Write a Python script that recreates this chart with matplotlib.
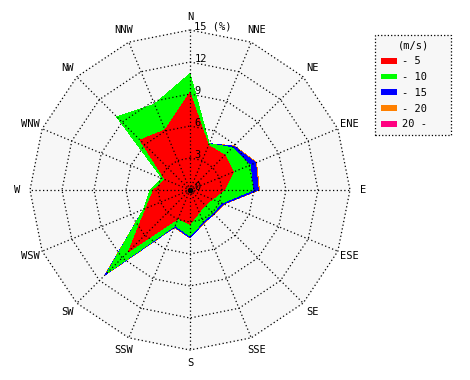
import matplotlib
matplotlib.use("Agg")
import matplotlib.pyplot as plt
from matplotlib.patches import Patch
import numpy as np

# 16 wind directions, clockwise from north
directions = ["N", "NNE", "NE", "ENE", "E", "ESE", "SE", "SSE",
              "S", "SSW", "SW", "WSW", "W", "WNW", "NW", "NNW"]

# frequency (%) per speed class and direction
freq_0_5 = [9.1, 4.5, 4.6, 4.4, 3.2, 2.25, 2.0, 2.25,
            3.2, 2.9, 8.1, 4.45, 3.4, 2.5, 6.6, 6.1]
freq_5_10 = [1.8, 0.2, 1.0, 1.7, 2.7, 0.95, 1.0, 0.95,
             1.1, 0.7, 2.9, 0.25, 0.35, 0.3, 3.1, 2.6]
freq_10_15 = [0.0, 0.0, 0.2, 0.55, 0.5, 0.2, 0.15, 0.15,
              0.15, 0.15, 0.15, 0.0, 0.0, 0.0, 0.0, 0.0]
freq_15_20 = [0.0, 0.0, 0.05, 0.1, 0.1, 0.05, 0.05, 0.05,
              0.05, 0.05, 0.1, 0.0, 0.0, 0.0, 0.0, 0.0]
freq_20_up = [0.0] * 16

speed_labels = ["- 5", "- 10", "- 15", "- 20", "20 -"]
speed_colors = ["#FF0000", "#00FF00", "#0000FF", "#FF8000", "#FF0080"]
ring_ticks = [0, 3, 6, 9, 12, 15]

plt.rcParams["font.family"] = ["DejaVu Sans Mono"]

theta = np.arange(len(directions)) * 2 * np.pi / len(directions)


def polygon(r):
    r = np.asarray(r, dtype=float)
    if r.ndim == 0:
        r = np.full(len(theta), float(r))
    x = r * np.sin(theta)
    y = r * np.cos(theta)
    return np.append(x, x[0]), np.append(y, y[0])


fig = plt.figure(figsize=(4.7, 3.8), dpi=100)
ax = fig.add_axes([0, 0, 1, 1])
scale = 160 / 15.0  # pixels per percent
ax.set_xlim(-190 / scale, 280 / scale)
ax.set_ylim(-190 / scale, 190 / scale)
ax.set_aspect("equal")
ax.axis("off")

rmax = ring_ticks[-1]
bx, by = polygon(rmax)
ax.fill(bx, by, color="#F7F7F7", zorder=0)

# stacked (cumulative) polygons, outermost first
classes = [freq_0_5, freq_5_10, freq_10_15, freq_15_20, freq_20_up]
cum = np.cumsum(np.array(classes), axis=0)
for i in range(len(classes) - 1, -1, -1):
    px, py = polygon(cum[i])
    ax.fill(px, py, color=speed_colors[i], lw=0, antialiased=False,
            zorder=1 + (len(classes) - i))

# grid: rings and spokes, dotted, on top of the fills
dots = (0, (1, 2))
for r in ring_ticks[1:]:
    gx, gy = polygon(r)
    ax.plot(gx, gy, color="black", lw=0.9, ls=dots, zorder=10)
for t in theta:
    ax.plot([0, rmax * np.sin(t)], [0, rmax * np.cos(t)],
            color="black", lw=0.9, ls=dots, zorder=10)
ax.plot(0, 0, "o", color="black", ms=3, zorder=11)

# ring labels
for r in ring_ticks:
    lab = f"{r} (%)" if r == rmax else str(r)
    ax.text(0.4, r + 0.3, lab, ha="left", va="center", fontsize=7.5, zorder=12)

# direction labels
for t, d in zip(theta, directions):
    ax.text(16.2 * np.sin(t), 16.2 * np.cos(t), d, ha="center", va="center",
            fontsize=7.5, zorder=12)

handles = [Patch(facecolor=c, edgecolor="none") for c in speed_colors]
leg = fig.legend(handles, speed_labels, title="(m/s)", loc="upper left",
                 bbox_to_anchor=(375 / 470, 0, 76 / 470, 1 - 35 / 380),
                 mode="expand", borderaxespad=0,
                 fontsize=7.5, title_fontsize=7.5, handlelength=1.6,
                 handleheight=0.5, handletextpad=0.4, labelspacing=0.55,
                 borderpad=0.55, fancybox=False, framealpha=1)
leg.get_frame().set_facecolor("#F7F7F7")
leg.get_frame().set_edgecolor("black")
leg.get_frame().set_linestyle(":")
leg.get_frame().set_linewidth(0.9)

fig.savefig("out.png", dpi=100, facecolor="white")
